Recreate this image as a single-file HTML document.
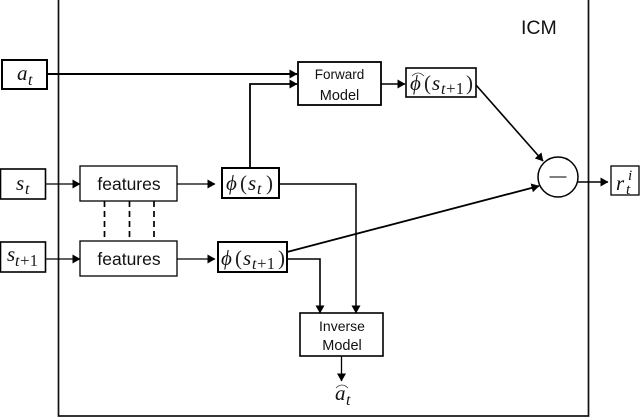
<!DOCTYPE html>
<html><head><meta charset="utf-8"><style>
html,body{margin:0;padding:0;background:#fff;width:640px;height:418px;overflow:hidden}
svg{display:block;filter:blur(0.35px)}
.m{font-family:"Liberation Serif","DejaVu Serif",serif;font-style:italic;fill:#111}
.n{font-family:"Liberation Serif","DejaVu Serif",serif;fill:#222}
.s{font-family:"Liberation Sans","DejaVu Sans",sans-serif;fill:#111}
.b{fill:#fff;stroke:#000}
</style></head><body>
<svg width="640" height="418" viewBox="0 0 640 418" xmlns="http://www.w3.org/2000/svg">
<defs>
<marker id="a" markerWidth="9" markerHeight="10" refX="7.500" refY="4.500" orient="auto" markerUnits="userSpaceOnUse"><path d="M0 0L8 4.500L0 9Z" fill="#000"/></marker>
</defs>
<rect x="58.500" y="-1" width="530" height="417" fill="#fff" stroke="#111" stroke-width="1.700"/>
<g fill="none" stroke="#000">
<path d="M47 74H297" stroke-width="2.100" marker-end="url(#a)"/>
<path d="M250 168V84H297" stroke-width="1.800" marker-end="url(#a)"/>
<path d="M381 84H405" stroke-width="1.500" marker-end="url(#a)"/>
<path d="M476 85L543 161" stroke-width="1.600" marker-end="url(#a)"/>
<path d="M287 252L539 186" stroke-width="1.800" marker-end="url(#a)"/>
<path d="M45 184H80" stroke-width="1.300" marker-end="url(#a)"/>
<path d="M177 184H215" stroke-width="1.300" marker-end="url(#a)"/>
<path d="M45 259H80" stroke-width="1.300" marker-end="url(#a)"/>
<path d="M177 259H215" stroke-width="1.300" marker-end="url(#a)"/>
<path d="M279 184H356V313" stroke-width="1.500" marker-end="url(#a)"/>
<path d="M287 259H320V313" stroke-width="1.600" marker-end="url(#a)"/>
<path d="M341.500 356V381" stroke-width="1.300" marker-end="url(#a)"/>
<path d="M578 182H608" stroke-width="1.600" marker-end="url(#a)"/>
<path d="M104.500 201V241M129.500 201V241M154 201V241" stroke-width="1.700" stroke-dasharray="6 4"/>
</g>
<rect class="b" x="2" y="60" width="45" height="29" stroke-width="2"/>
<rect class="b" x="0.500" y="169" width="45" height="30" stroke-width="1.600"/>
<rect class="b" x="0.500" y="242" width="45" height="30" stroke-width="1.600"/>
<rect class="b" x="80" y="166" width="97" height="35" stroke-width="1.300"/>
<rect class="b" x="80" y="241" width="97" height="35" stroke-width="1.300"/>
<rect class="b" x="222" y="168" width="57" height="30" stroke-width="2"/>
<rect class="b" x="218" y="242" width="69" height="30" stroke-width="2"/>
<rect class="b" x="298" y="62" width="83" height="43" stroke-width="1.800"/>
<rect class="b" x="406" y="68" width="70" height="29" stroke-width="1.600"/>
<rect class="b" x="300" y="313" width="83" height="43" stroke-width="1.600"/>
<rect class="b" x="611" y="166" width="28" height="29" stroke-width="1.300"/>
<circle class="b" cx="558" cy="177" r="20" stroke-width="1.500"/>
<path d="M549.500 177H566.500" stroke="#333" stroke-width="1.300"/>
<path d="M412 76Q418 70 424 76M336 388Q342 382 348 388" fill="none" stroke="#333" stroke-width="0.800"/>

<text class="m" x="17" y="80" font-size="21">a</text><text class="m" x="28" y="85" font-size="16">t</text>
<text class="m" x="16" y="190" font-size="21">s</text><text class="m" x="25" y="194" font-size="16">t</text>
<text class="m" x="7" y="261" font-size="21">s</text><text class="m" x="15" y="266" font-size="16">t</text><text class="n" x="20" y="266" font-size="17">+1</text>
<text class="s" x="129" y="190" font-size="17.500" text-anchor="middle">features</text>
<text class="s" x="129" y="265" font-size="17.500" text-anchor="middle">features</text>
<text class="m" x="226" y="190" font-size="21">ϕ</text><text class="n" x="240" y="190" font-size="21">(</text><text class="m" x="248" y="190" font-size="21">s</text><text class="m" x="257" y="194" font-size="16">t</text><text class="n" x="266" y="190" font-size="21">)</text>
<text class="m" x="221" y="265" font-size="21">ϕ</text><text class="n" x="235" y="265" font-size="21">(</text><text class="m" x="243" y="265" font-size="21">s</text><text class="m" x="252" y="269" font-size="16">t</text><text class="n" x="257" y="269" font-size="17">+1</text><text class="n" x="278" y="265" font-size="21">)</text>
<text class="m" x="410" y="90" font-size="21">ϕ</text><text class="n" x="424" y="90" font-size="21">(</text><text class="m" x="432" y="90" font-size="21">s</text><text class="m" x="441" y="94" font-size="16">t</text><text class="n" x="446" y="94" font-size="17">+1</text><text class="n" x="466" y="90" font-size="21">)</text>
<text class="m" x="616" y="190" font-size="21">r</text><text class="m" x="628" y="180" font-size="15">i</text><text class="m" x="626" y="194" font-size="15">t</text>
<text class="m" x="335" y="400" font-size="21">a</text><text class="m" x="346" y="405" font-size="16">t</text>
<text class="s" x="521" y="34" font-size="19.500">ICM</text>
<text class="s" x="339.500" y="79" font-size="13.500" text-anchor="middle">Forward</text>
<text class="s" x="339.500" y="100" font-size="14.500" text-anchor="middle">Model</text>
<text class="s" x="342" y="331" font-size="14" text-anchor="middle">Inverse</text>
<text class="s" x="342" y="350" font-size="14.500" text-anchor="middle">Model</text>
</svg>
</body></html>
